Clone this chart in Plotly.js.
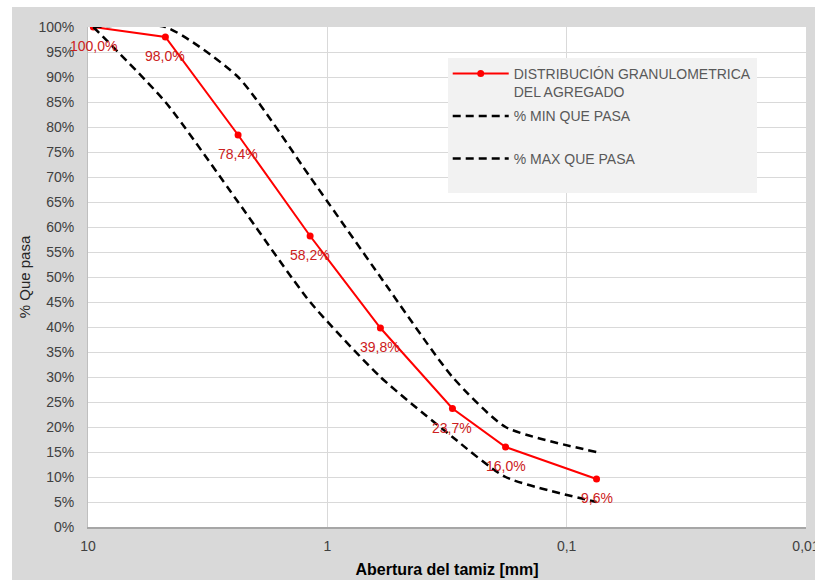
<!DOCTYPE html>
<html><head><meta charset="utf-8">
<script src="https://cdn.plot.ly/plotly-3.0.1.min.js"></script>
<style>html,body{margin:0;padding:0;background:#fff;width:815px;height:580px;overflow:hidden}
#chart{position:absolute;left:12px;top:7px;width:803px;height:573px}</style>
</head><body><div id="chart"></div><script>
const sieveSizes=[9.5,4.75,2.36,1.18,0.6,0.3,0.18,0.075];
const passing=[100,98,78.4,58.2,39.8,23.7,16.0,9.6];
const minPassing=[100,100,90,70,50,30,20,15];
const maxPassing=[100,85,65,45,30,18,10,5];
const passingLabels=['100,0%','98,0%','78,4%','58,2%','39,8%','23,7%','16,0%','9,6%'];
const xTickVals=[10,1,0.1,0.01];
const xTickText=['10','1','0,1','0,01'];
const seriesNames=['DISTRIBUCIÓN GRANULOMETRICA<br>DEL AGREGADO','% MIN QUE PASA<br> ','% MAX QUE PASA<br> '];

const font='"Liberation Sans", Arial, sans-serif';
const traces=[
 {x:sieveSizes,y:passing,name:seriesNames[0],mode:'lines+markers',type:'scatter',legendgroup:'a',
  line:{color:'#ff0000',width:2},marker:{color:'#ff0000',size:7}},
 {x:sieveSizes,y:minPassing,name:seriesNames[1],mode:'lines',type:'scatter',legendgroup:'b',
  line:{color:'#000000',width:2.5,dash:'8px,5px',shape:'spline',smoothing:0.6}},
 {x:sieveSizes,y:maxPassing,name:seriesNames[2],mode:'lines',type:'scatter',legendgroup:'c',
  line:{color:'#000000',width:2.5,dash:'8px,5px',shape:'spline',smoothing:0.6}}
];
const annotations=sieveSizes.map((s,i)=>({x:Math.log10(s),y:passing[i],xref:'x',yref:'y',text:passingLabels[i],
  showarrow:false,yshift:-19,font:{family:font,size:14,color:'#cc2020'}}));
const layout={
 width:803,height:573,paper_bgcolor:'#d9d9d9',plot_bgcolor:'#ffffff',separators:',.',
 margin:{l:76,r:9,t:20,b:53},font:{family:font,size:14,color:'#404040'},
 xaxis:{type:'log',range:[Math.log10(10),Math.log10(0.01)-0.0001],tickvals:xTickVals,ticktext:xTickText,
  showgrid:true,gridcolor:'#d9d9d9',gridwidth:1,showline:true,linecolor:'#a6a6a6',linewidth:1.5,
  zeroline:false,ticks:'',ticklabelstandoff:6,ticklabeloverflow:'allow',tickfont:{size:14,color:'#404040'},
  title:{text:'<b>Abertura del tamiz [mm]</b>',font:{family:'"Liberation Sans Narrow", "Liberation Sans", Arial',size:16,color:'#000000'},standoff:10}},
 yaxis:{range:[0,100],dtick:5,tick0:0,ticksuffix:'%',showgrid:true,gridcolor:'#d9d9d9',gridwidth:1,
  showline:true,linecolor:'#bfbfbf',linewidth:1,zeroline:false,ticks:'',ticklabelstandoff:10,
  tickfont:{size:14,color:'#404040'},
  title:{text:'% Que pasa',font:{size:15,color:'#262626'},standoff:4}},
 legend:{x:0.501,y:0.938,xanchor:'left',yanchor:'top',bgcolor:'#f2f2f2',borderwidth:0,valign:'top',
  font:{size:14,color:'#595959'},tracegroupgap:3,itemwidth:56,entrywidth:320},
 annotations:annotations,showlegend:true
};
Plotly.newPlot('chart',traces,layout,{displayModeBar:false,staticPlot:true});
</script></body></html>
